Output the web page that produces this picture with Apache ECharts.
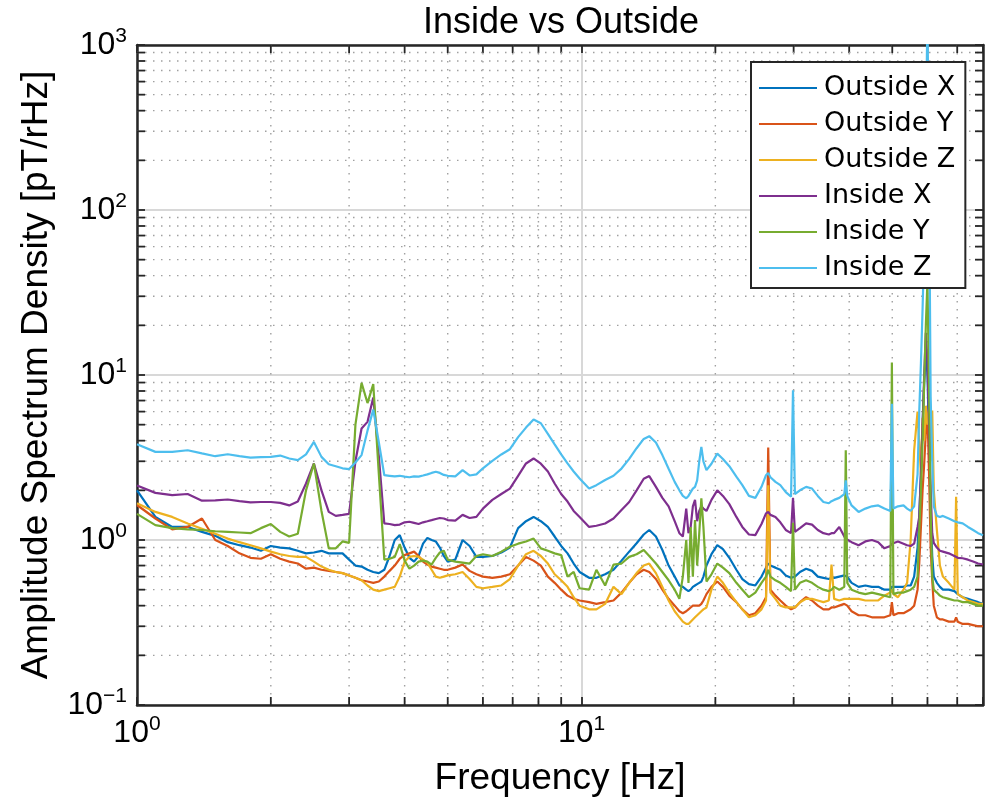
<!DOCTYPE html>
<html><head><meta charset="utf-8">
<script src="https://cdn.jsdelivr.net/npm/echarts@6/dist/echarts.min.js"></script>
<style>html,body{margin:0;padding:0;background:#fff}#c{width:987px;height:802px}</style>
</head><body><div id="c"></div>
<script>
const freq = [1.0,1.1,1.2,1.3,1.4,1.5,1.6,1.7,1.8,1.9,
2.0,2.1,2.2,2.3,2.4,2.5,2.6,2.7,2.8,2.9,
3.0,3.1,3.2,3.3,3.4,3.5,3.6,3.7,3.8,3.9,
4.0,4.1,4.2,4.3,4.4,4.5,4.6,4.7,4.8,4.9,
5.0,5.2,5.4,5.6,5.8,6.0,6.3,6.6,6.9,7.2,
7.5,7.8,8.1,8.4,8.7,9.0,9.3,9.6,9.9,10.4,
10.8,11.3,11.8,12.3,12.8,13.3,13.8,14.2,14.7,15.2,
15.7,16.2,16.6,16.9,17.2,17.4,17.6,17.8,18.0,18.2,
18.4,18.6,18.8,19.1,19.6,20.2,20.8,21.5,22.3,23.0,
23.8,24.6,25.4,26.0,26.3,26.6,27.3,28.0,28.8,29.6,
29.9,30.2,31.0,32.0,33.0,34.0,35.0,36.0,36.5,37.0,
38.0,39.0,39.3,39.6,40.5,42.0,43.5,45.0,46.5,48.0,
49.5,49.9,50.3,51.5,53.0,54.0,55.0,56.0,57.0,57.5,
58.0,58.5,59.0,59.5,60.0,60.5,61.0,61.5,62.0,63.0,
64.0,65.0,67.0,69.0,69.6,70.2,72.0,74.0,76.0,78.0,
80.0];

const outsideX = [2.0,1.38,1.2,1.2,1.12,1.06,0.97,0.93,0.9,0.86,
0.92,0.9,0.89,0.86,0.83,0.84,0.86,0.83,0.83,0.83,
0.76,0.7,0.69,0.66,0.64,0.63,0.66,0.8,1.0,1.07,
0.9,0.78,0.74,0.8,0.95,1.03,1.0,0.98,0.9,0.8,
0.74,0.76,1.0,0.92,0.79,0.79,0.8,0.84,0.9,1.18,
1.3,1.38,1.3,1.2,1.05,0.92,0.83,0.72,0.64,0.59,
0.59,0.62,0.66,0.75,0.85,0.955,1.08,1.15,1.05,0.87,
0.7,0.6,0.53,0.52,0.5,0.49,0.5,0.52,0.53,0.54,
0.55,0.56,0.6,0.7,0.82,0.93,0.88,0.78,0.66,0.58,
0.54,0.53,0.6,0.68,0.72,0.7,0.68,0.66,0.61,0.59,
0.6,0.6,0.64,0.67,0.65,0.6,0.59,0.58,0.59,0.59,
0.6,0.61,0.62,0.6,0.55,0.52,0.53,0.52,0.52,0.5,
0.5,0.52,0.51,0.52,0.52,0.53,0.53,0.6,0.9,1.38,
2.5,5,9,14,10,4,1.5,0.8,0.6,0.55,
0.52,0.5,0.5,0.49,0.48,0.47,0.45,0.44,0.43,0.42,
0.41];

const outsideY = [1.63,1.35,1.16,1.2,1.35,1.0,0.92,0.83,0.78,0.77,
0.82,0.77,0.74,0.72,0.67,0.68,0.66,0.65,0.64,0.63,
0.61,0.59,0.57,0.56,0.55,0.56,0.6,0.65,0.7,0.77,
0.81,0.83,0.85,0.8,0.74,0.71,0.69,0.68,0.67,0.66,
0.66,0.68,0.71,0.65,0.62,0.6,0.59,0.6,0.62,0.7,
0.79,0.75,0.7,0.6,0.55,0.5,0.46,0.44,0.43,0.42,
0.41,0.42,0.43,0.48,0.55,0.62,0.66,0.64,0.58,0.5,
0.44,0.4,0.37,0.36,0.37,0.38,0.39,0.4,0.4,0.4,
0.4,0.41,0.43,0.47,0.52,0.56,0.52,0.46,0.42,0.38,
0.35,0.36,0.4,0.45,3.64,0.5,0.46,0.43,0.4,0.38,
0.37,0.39,0.42,0.45,0.43,0.4,0.38,0.38,0.39,0.39,
0.4,0.41,0.42,0.4,0.37,0.35,0.35,0.34,0.34,0.34,
0.35,0.42,0.35,0.36,0.36,0.37,0.38,0.4,0.5,0.72,
1.2,2.0,2.91,4.5,6.0,2.5,0.9,0.57,0.4,0.34,
0.33,0.33,0.32,0.32,0.34,0.32,0.31,0.31,0.305,0.3,
0.3];

const outsideZ = [1.67,1.48,1.38,1.26,1.17,1.09,1.02,0.97,0.93,0.89,
0.85,0.82,0.8,0.79,0.79,0.74,0.69,0.66,0.64,0.63,
0.61,0.59,0.57,0.53,0.5,0.49,0.5,0.51,0.52,0.6,
0.74,0.79,0.8,0.79,0.76,0.73,0.66,0.6,0.59,0.6,
0.61,0.62,0.64,0.58,0.52,0.51,0.52,0.53,0.58,0.7,
0.82,0.86,0.8,0.72,0.62,0.57,0.52,0.45,0.4,0.38,
0.38,0.41,0.52,0.47,0.55,0.63,0.7,0.72,0.63,0.52,
0.43,0.37,0.34,0.32,0.31,0.31,0.32,0.33,0.34,0.35,
0.36,0.37,0.38,0.39,0.5,0.6,0.55,0.48,0.42,0.38,
0.34,0.35,0.38,0.43,2.15,0.48,0.44,0.4,0.39,0.39,
0.38,0.39,0.42,0.44,0.44,0.43,0.42,0.43,0.71,0.44,
0.43,0.44,0.45,0.44,0.44,0.44,0.43,0.43,0.43,0.46,
0.48,0.5,0.47,0.45,0.5,0.55,1.0,3.5,6.0,6.1,
2.5,5.5,4,6.5,5,6.2,3.0,6.1,2.0,1.15,
0.7,0.6,0.55,0.5,1.83,0.47,0.45,0.43,0.42,0.41,
0.41];

const insideX = [2.14,1.93,1.87,1.9,1.73,1.74,1.76,1.72,1.69,1.7,
1.7,1.68,1.62,1.71,2.2,2.91,2.0,1.48,1.4,1.42,
1.44,3.0,4.74,5.2,7.3,3.2,1.26,1.25,1.23,1.24,
1.28,1.29,1.27,1.25,1.28,1.3,1.32,1.34,1.36,1.35,
1.32,1.31,1.42,1.36,1.38,1.55,1.75,1.9,2.05,2.45,
2.91,3.12,2.9,2.6,2.2,1.9,1.71,1.5,1.38,1.2,
1.22,1.26,1.35,1.52,1.7,2.0,2.35,2.44,2.1,1.8,
1.6,1.3,1.1,1.05,1.55,1.1,1.2,1.6,1.75,1.3,
1.5,1.6,1.55,1.5,1.75,2.0,1.85,1.65,1.38,1.2,
1.08,1.07,1.25,1.45,1.48,1.42,1.38,1.28,1.15,1.1,
1.8,1.12,1.18,1.26,1.24,1.15,1.1,1.08,1.1,1.1,
1.2,1.05,1.02,1.0,0.97,0.93,0.98,1.0,0.97,0.89,
0.92,0.95,0.94,0.98,0.95,0.93,0.92,0.95,1.2,1.38,
2.5,5,10,18,12,5,2.0,1.1,0.96,0.9,
0.86,0.85,0.83,0.8,0.79,0.78,0.775,0.76,0.74,0.72,
0.71];

const insideY = [1.44,1.23,1.18,1.16,1.15,1.13,1.12,1.11,1.1,1.18,
1.25,1.12,1.05,1.09,2.0,2.91,1.5,0.89,0.89,0.98,
0.96,5.0,8.96,6.76,8.8,2.5,0.76,0.77,0.79,0.945,
0.75,0.67,0.7,0.74,0.75,0.74,0.71,0.78,0.84,0.86,
0.76,0.74,0.73,0.72,0.8,0.82,0.8,0.85,0.91,0.95,
0.98,1.02,0.89,0.86,0.83,0.81,0.6,0.64,0.51,0.5,
0.66,0.53,0.71,0.72,0.79,0.82,0.87,0.8,0.72,0.64,
0.57,0.5,0.44,0.6,1.0,0.55,1.2,0.6,1.32,0.7,
1.1,1.79,1.2,0.56,0.62,0.72,0.68,0.63,0.55,0.5,
0.45,0.48,0.55,0.6,0.66,0.6,0.57,0.55,0.52,0.49,
1.27,0.5,0.55,0.57,0.55,0.52,0.5,0.49,0.5,0.52,
0.5,0.52,3.5,0.55,0.5,0.48,0.47,0.48,0.47,0.46,
0.45,11.9,0.47,0.48,0.48,0.49,0.5,0.52,0.6,1.15,
2.0,4,9,20,37,8,1.5,0.6,0.5,0.48,
0.46,0.45,0.44,0.43,0.44,0.43,0.42,0.42,0.41,0.4,
0.4];

const insideZ = [3.8,3.42,3.42,3.5,3.35,3.22,3.31,3.22,3.16,3.18,
3.19,3.25,3.12,3.05,3.3,3.93,3.19,2.88,2.8,2.72,
2.69,2.95,3.27,4.6,6.17,3.9,2.47,2.45,2.43,2.45,
2.42,2.4,2.43,2.42,2.46,2.5,2.55,2.59,2.55,2.48,
2.45,2.43,2.65,2.46,2.5,2.72,3.02,3.3,3.55,4.2,
4.8,5.37,5.1,4.4,3.8,3.3,2.91,2.6,2.36,2.05,
2.15,2.31,2.45,2.71,3.1,3.6,4.1,4.26,3.9,3.27,
2.7,2.25,2.0,1.85,1.79,1.85,1.95,2.05,2.1,2.3,
3.0,3.67,3.0,2.65,2.9,3.34,3.1,2.8,2.42,2.15,
1.85,1.8,2.1,2.47,2.55,2.4,2.25,2.15,1.95,1.83,
8.08,1.9,2.0,2.1,2.05,1.85,1.7,1.67,1.72,1.75,
1.8,1.9,2.3,1.85,1.62,1.48,1.55,1.6,1.62,1.55,
1.5,6.7,1.55,1.6,1.62,1.55,1.5,1.6,2.5,6.0,
11.7,25,60,300,1500,150,7.4,3.0,1.6,1.4,
1.38,1.4,1.35,1.3,1.32,1.28,1.26,1.2,1.15,1.1,
1.07];

const seriesNames = ['Outside X','Outside Y','Outside Z','Inside X','Inside Y','Inside Z'];
const seriesValues = [outsideX, outsideY, outsideZ, insideX, insideY, insideZ];
const seriesColors = ['#0072BD','#D95319','#EDB120','#7E2F8E','#77AC30','#4DBEEE'];

const xMajorTicks = [1, 10];
const yMajorTicks = [0.1, 1, 10, 100, 1000];
const xMinorTicks = [2,3,4,5,6,7,8,9,20,30,40,50,60,70];
const yMinorTicks = [0.2,0.3,0.4,0.5,0.6,0.7,0.8,0.9,2,3,4,5,6,7,8,9,20,30,40,50,60,70,80,90,200,300,400,500,600,700,800,900];

const X_MIN = 1, X_MAX = 80, Y_MIN = 0.1, Y_MAX = 1000;
const FONT = 'Liberation Sans';
const AXC = '#262626';

function powLabel(v, majors) {
  for (const m of majors) {
    if (Math.abs(v - m) < 1e-6 * m) {
      const e = Math.round(Math.log10(m));
      return '{b|10}{s|' + (e < 0 ? '\u2212' + (-e) : e) + '}';
    }
  }
  return '';
}
const rich = {
  b: {fontSize: 32, fontFamily: FONT, color: '#000'},
  s: {fontSize: 21, fontFamily: FONT, color: '#000', verticalAlign: 'bottom', padding: [0, 0, 17, 0]}
};

const chart = echarts.init(document.getElementById('c'), null, {renderer: 'canvas'});

function minorX(params, api) {
  const cs = params.coordSys;
  const x = api.coord([api.value(0), 1])[0];
  const t = cs.y, b = cs.y + cs.height;
  return {type: 'group', children: [
    {type: 'line', shape: {x1: x, y1: t, x2: x, y2: b}, style: {stroke: '#a0a0a0', lineWidth: 1.4, lineDash: [1.5, 6.5]}},
    {type: 'line', shape: {x1: x, y1: b, x2: x, y2: b - 8}, style: {stroke: AXC, lineWidth: 1.8}},
    {type: 'line', shape: {x1: x, y1: t, x2: x, y2: t + 8}, style: {stroke: AXC, lineWidth: 1.8}}
  ]};
}
function minorY(params, api) {
  const cs = params.coordSys;
  const y = api.coord([1, api.value(1)])[1];
  const l = cs.x, r = cs.x + cs.width;
  return {type: 'group', children: [
    {type: 'line', shape: {x1: l, y1: y, x2: r, y2: y}, style: {stroke: '#a0a0a0', lineWidth: 1.4, lineDash: [1.5, 6.5]}},
    {type: 'line', shape: {x1: l, y1: y, x2: l + 8, y2: y}, style: {stroke: AXC, lineWidth: 1.8}},
    {type: 'line', shape: {x1: r, y1: y, x2: r - 8, y2: y}, style: {stroke: AXC, lineWidth: 1.8}}
  ]};
}

const lineSeries = seriesNames.map((n, i) => ({
  name: n, type: 'line', xAxisIndex: 0, yAxisIndex: 0,
  data: freq.map((f, k) => [f, seriesValues[i][k]]),
  showSymbol: false, symbol: 'none', clip: true, z: 5,
  lineStyle: {color: seriesColors[i], width: 2.2},
  itemStyle: {color: seriesColors[i]}
}));

const axisCommon = {
  axisLine: {show: true, lineStyle: {color: AXC, width: 2.5}},
  axisTick: {show: true, inside: true, length: 8, lineStyle: {color: AXC, width: 1.8}},
  minorTick: {show: false}
};

chart.setOption({
  animation: false,
  backgroundColor: '#fff',
  title: {text: 'Inside vs Outside', left: 556, top: 0, textAlign: 'center',
    textStyle: {fontFamily: FONT, fontSize: 36, fontWeight: 'normal', color: '#000'}},
  grid: {left: 137, top: 45, right: 4, bottom: 97, containLabel: false},
  legend: {
    data: seriesNames, orient: 'vertical', left: 751, top: 62, z: 20,
    backgroundColor: '#fff', borderColor: AXC, borderWidth: 2,
    padding: [12, 10, 6, 8], itemGap: 8, itemWidth: 58, itemHeight: 2, icon: 'rect',
    textStyle: {fontFamily: 'DejaVu Sans', fontSize: 27, color: '#000', lineHeight: 28, padding: [0, 0, 0, 2]}
  },
  xAxis: [
    Object.assign({type: 'log', logBase: 10, min: X_MIN, max: X_MAX, position: 'bottom',
      name: 'Frequency [Hz]', nameLocation: 'middle', nameGap: 55,
      nameTextStyle: {fontFamily: FONT, fontSize: 37, color: '#000'},
      axisLabel: {show: true, margin: 9, formatter: v => powLabel(v, xMajorTicks), rich: rich},
      splitLine: {show: true, lineStyle: {color: '#d8d8d8', width: 2}}}, axisCommon),
    Object.assign({type: 'log', logBase: 10, min: X_MIN, max: X_MAX, position: 'top',
      axisLabel: {show: false}, splitLine: {show: false}}, axisCommon)
  ],
  yAxis: [
    Object.assign({type: 'log', logBase: 10, min: Y_MIN, max: Y_MAX, position: 'left',
      name: 'Amplitude Spectrum Density [pT/rHz]', nameLocation: 'middle', nameGap: 82,
      nameTextStyle: {fontFamily: FONT, fontSize: 37, color: '#000'},
      axisLabel: {show: true, margin: 10, formatter: v => powLabel(v, yMajorTicks), rich: rich},
      splitLine: {show: true, lineStyle: {color: '#d8d8d8', width: 2}}}, axisCommon),
    Object.assign({type: 'log', logBase: 10, min: Y_MIN, max: Y_MAX, position: 'right',
      axisLabel: {show: false}, splitLine: {show: false}}, axisCommon)
  ],
  series: [
    {type: 'custom', xAxisIndex: 0, yAxisIndex: 0, z: 1, silent: true,
      data: xMinorTicks.map(v => [v, 1]), renderItem: minorX, clip: false},
    {type: 'custom', xAxisIndex: 0, yAxisIndex: 0, z: 1, silent: true,
      data: yMinorTicks.map(v => [1, v]), renderItem: minorY, clip: false}
  ].concat(lineSeries)
});
</script></body></html>
